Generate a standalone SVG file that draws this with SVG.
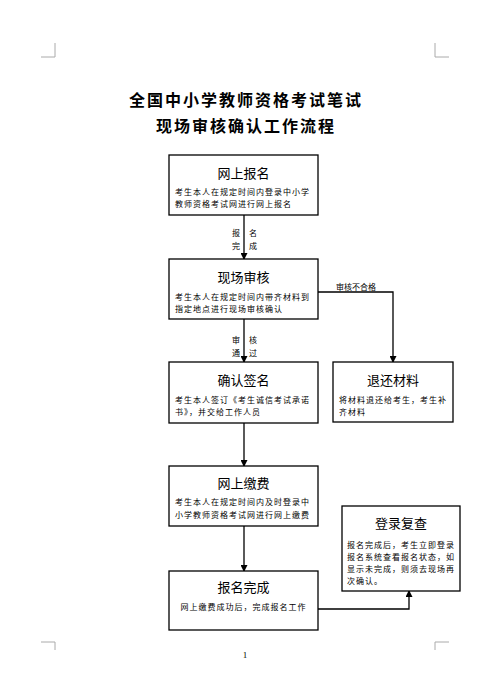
<svg xmlns="http://www.w3.org/2000/svg" width="490" height="700" viewBox="0 0 490 700">
<style>
.box{fill:#fff;stroke:#000;stroke-width:1.3}
.t{font-family:"Noto Sans CJK SC","Noto Sans",sans-serif;fill:#000}
.h{font-size:13px;text-anchor:middle}
.b{font-size:8px;letter-spacing:1px}
.e{font-size:8px;text-anchor:middle}
.title{font-size:16px;font-weight:bold;text-anchor:middle;letter-spacing:2px}
.crop{stroke:#aaa;stroke-width:1;fill:none}
.ln{stroke:#000;stroke-width:1.3;fill:none}
.pg{font-family:"Liberation Serif",serif;font-size:9px;text-anchor:middle;fill:#000}
</style>
<defs>
<marker id="arr" markerWidth="7" markerHeight="7" refX="6" refY="3.5" orient="auto" markerUnits="userSpaceOnUse">
<path d="M0,0 L7,3.5 L0,7 Z" fill="#000"/>
</marker>
</defs>
<rect width="490" height="700" fill="#fff"/>
<g id="crops">
<path class="crop" d="M41,57 H55 V43"/>
<path class="crop" d="M449,57 H435 V43"/>
<path class="crop" d="M41,642 H55 V650"/>
<path class="crop" d="M449,642 H435 V650"/>
</g>
<g id="title">
<text class="t title" x="246" y="106">全国中小学教师资格考试笔试</text>
<text class="t title" x="246" y="132">现场审核确认工作流程</text>
</g>
<g id="connectors">
<path class="ln" d="M244,215 V259" marker-end="url(#arr)"/>
<text class="t e" x="236" y="236">报</text>
<text class="t e" x="253" y="236">名</text>
<text class="t e" x="236" y="249">完</text>
<text class="t e" x="253" y="249">成</text>
<path class="ln" d="M244,319 V362" marker-end="url(#arr)"/>
<text class="t e" x="236" y="343">审</text>
<text class="t e" x="253" y="343">核</text>
<text class="t e" x="236" y="356">通</text>
<text class="t e" x="253" y="356">过</text>
<path class="ln" d="M318,292 H393 V362" marker-end="url(#arr)"/>
<text class="t e" x="356" y="290">审核不合格</text>
<path class="ln" d="M244,423 V466" marker-end="url(#arr)"/>
<path class="ln" d="M244,526 V571" marker-end="url(#arr)"/>
<path class="ln" d="M318,609 H409 V591" marker-end="url(#arr)"/>
</g>
<g id="n1">
<rect class="box" x="169" y="155" width="149" height="60"/>
<text class="t h" x="243.5" y="178">网上报名</text>
<text class="t b" x="175" y="195">考生本人在规定时间内登录中小学</text>
<text class="t b" x="175" y="207">教师资格考试网进行网上报名</text>
</g>
<g id="n2">
<rect class="box" x="169" y="259" width="149" height="60"/>
<text class="t h" x="243.5" y="282">现场审核</text>
<text class="t b" x="175" y="300">考生本人在规定时间内带齐材料到</text>
<text class="t b" x="175" y="312">指定地点进行现场审核确认</text>
</g>
<g id="n3">
<rect class="box" x="169" y="362" width="149" height="61"/>
<text class="t h" x="243.5" y="385">确认签名</text>
<text class="t b" x="175" y="403">考生本人签订《考生诚信考试承诺</text>
<text class="t b" x="175" y="415">书》，并交给工作人员</text>
</g>
<g id="n4">
<rect class="box" x="333" y="362" width="120" height="60"/>
<text class="t h" x="393" y="385">退还材料</text>
<text class="t b" x="339" y="403">将材料退还给考生，考生补</text>
<text class="t b" x="339" y="415">齐材料</text>
</g>
<g id="n5">
<rect class="box" x="169" y="466" width="149" height="60"/>
<text class="t h" x="243.5" y="488">网上缴费</text>
<text class="t b" x="175" y="505">考生本人在规定时间内及时登录中</text>
<text class="t b" x="175" y="518">小学教师资格考试网进行网上缴费</text>
</g>
<g id="n6">
<rect class="box" x="169" y="571" width="149" height="59"/>
<text class="t h" x="243.5" y="592">报名完成</text>
<text class="t b" x="243.5" y="610" text-anchor="middle">网上缴费成功后，完成报名工作</text>
</g>
<g id="n7">
<rect class="box" x="342" y="506" width="118" height="85"/>
<text class="t h" x="401" y="528">登录复查</text>
<text class="t b" x="347" y="548">报名完成后，考生立即登录</text>
<text class="t b" x="347" y="560">报名系统查看报名状态，如</text>
<text class="t b" x="347" y="572">显示未完成，则须去现场再</text>
<text class="t b" x="347" y="584">次确认。</text>
</g>
<text class="pg" x="245" y="658">1</text>
</svg>
